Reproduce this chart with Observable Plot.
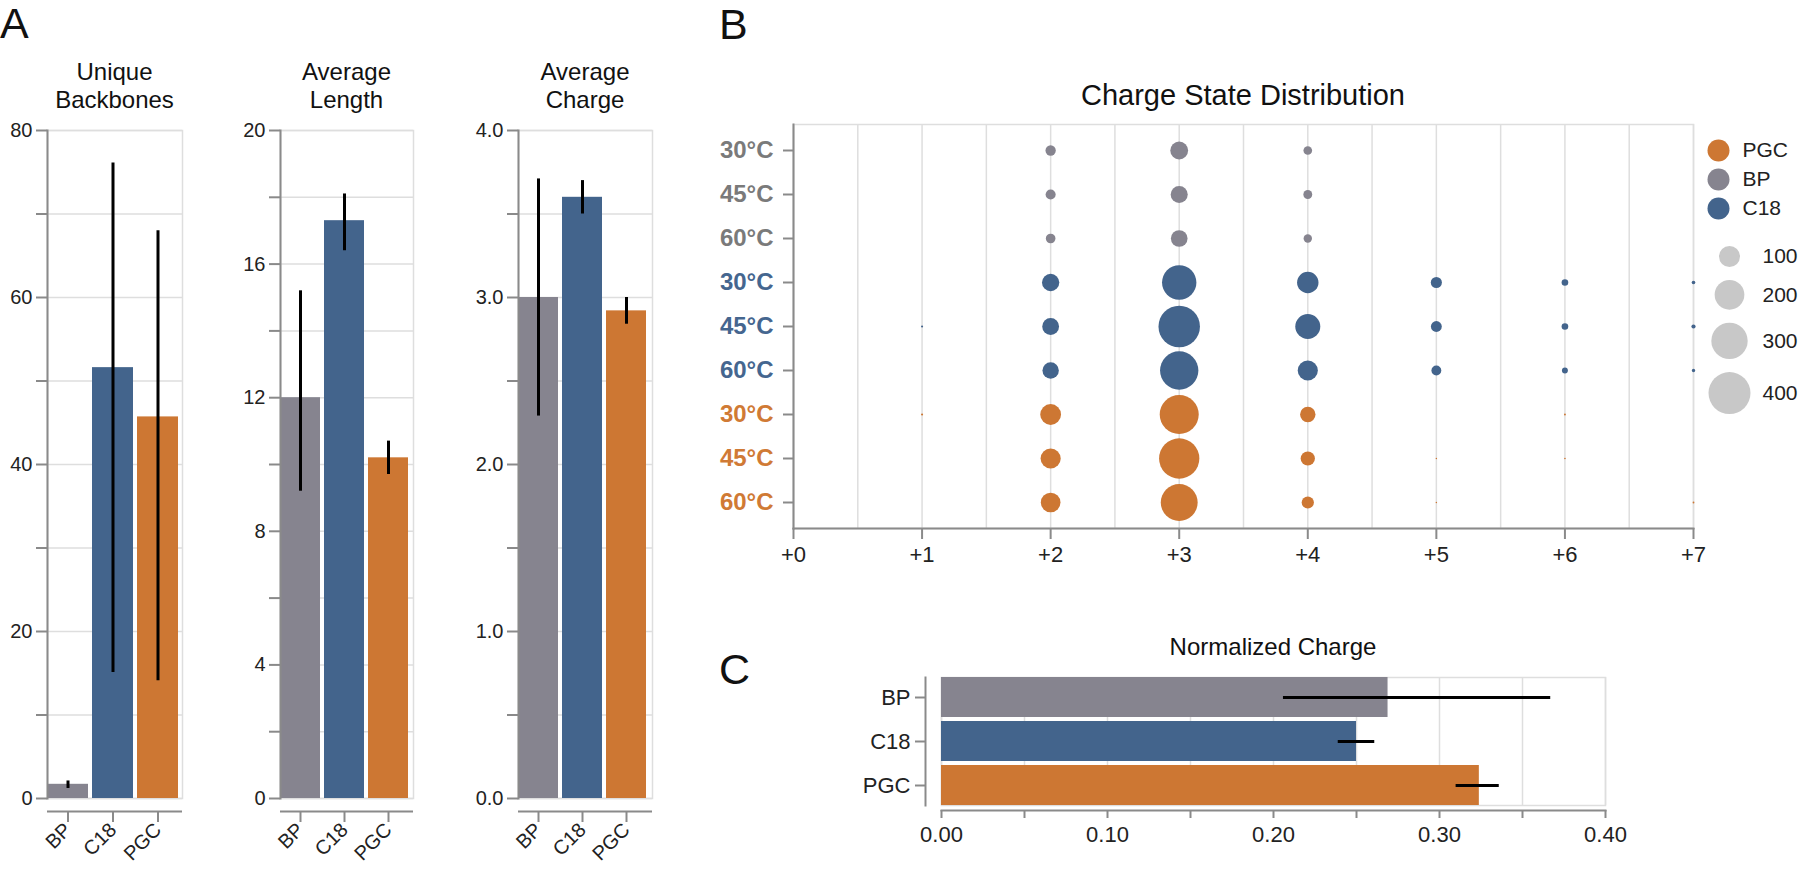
<!DOCTYPE html>
<html><head><meta charset="utf-8">
<script src="https://cdn.jsdelivr.net/npm/d3@7"></script>
<script src="https://cdn.jsdelivr.net/npm/@observablehq/plot@0.6"></script>
<style>
body{margin:0;background:#fff;}
#root{position:relative;width:1800px;height:872px;overflow:hidden;font-family:"Liberation Sans",Arial,sans-serif;color:#111;}
.lbl{position:absolute;white-space:nowrap;line-height:1;}
.ttl{position:absolute;white-space:nowrap;text-align:center;transform:translateX(-50%);}
</style></head><body><div id="root"></div>
<script>
// ---------- data ----------
const columns = ["BP", "C18", "PGC"];
const columnColors = ["#86848f", "#43648c", "#cd7733"];

const uniqueBackbones   = [1.7, 51.6, 45.7];
const uniqueBackbonesLo = [1.2, 15.1, 14.1];
const uniqueBackbonesHi = [2.1, 76.1, 68.0];

const averageLength   = [12.0, 17.3, 10.2];
const averageLengthLo = [9.2, 16.4, 9.7];
const averageLengthHi = [15.2, 18.1, 10.7];

const averageCharge   = [3.0, 3.6, 2.92];
const averageChargeLo = [2.29, 3.5, 2.84];
const averageChargeHi = [3.71, 3.7, 3.0];

const normalizedCharge   = [0.269, 0.25, 0.324];
const normalizedChargeLo = [0.206, 0.239, 0.310];
const normalizedChargeHi = [0.367, 0.261, 0.336];

const chargeStates = [0, 1, 2, 3, 4, 5, 6, 7];
const temperatures = ["30°C", "45°C", "60°C"];
const bpCounts = [
  [0, 0, 24, 72, 17, 0, 0, 0],
  [0, 0, 23, 66, 18, 0, 0, 0],
  [0, 0, 21, 63, 16, 0, 0, 0]
];
const c18Counts = [
  [0, 0, 68, 268, 104, 28, 10, 3],
  [0, 1, 64, 390, 142, 27, 10, 4],
  [0, 0, 61, 333, 92, 22, 8, 2.5]
];
const pgcCounts = [
  [0, 1, 98, 345, 54, 0, 0.8, 0],
  [0, 0, 92, 368, 46, 0.5, 0.6, 0],
  [0, 0, 88, 309, 34, 0.5, 0, 0.7]
];
const rowLabelColors = {BP: "#7a7a7a", C18: "#45668f", PGC: "#d07a35"};
const legendGroups = ["PGC", "BP", "C18"];
const sizeLegendValues = [100, 200, 300, 400];

// ---------- helpers ----------
const FONT = '"Liberation Sans", Arial, sans-serif';
const root = document.getElementById("root");
const AXIS = "#8a8a8a", GRID = "#dedede", TXT = "#222";
const colorScale = {domain: columns, range: columnColors};

function place(node, left, top) {
  node.style.position = "absolute";
  node.style.left = left + "px";
  node.style.top = top + "px";
  root.appendChild(node);
}
function label(text, left, baseline, size) {
  const d = document.createElement("div");
  d.className = "lbl";
  d.textContent = text;
  d.style.fontSize = size + "px";
  d.style.left = left + "px";
  d.style.top = (baseline - 0.8465 * size) + "px";
  root.appendChild(d);
}
function title(lines, center, firstBaseline, size, lh) {
  const d = document.createElement("div");
  d.className = "ttl";
  d.innerHTML = lines.join("<br>");
  d.style.fontSize = size + "px";
  d.style.lineHeight = lh + "px";
  d.style.left = center + "px";
  d.style.top = (firstBaseline - ((lh - 1.117 * size) / 2 + 0.905 * size)) + "px";
  root.appendChild(d);
}
const isMult = (d, s) => Math.abs(d / s - Math.round(d / s)) < 1e-6;

// ---------- panel A ----------
function barPanel({left, width, marginLeft, marginRight, values, lo, hi, max, step, labelStep, fmt}) {
  const data = columns.map((c, i) => ({cat: c, value: values[i], lo: lo[i], hi: hi[i]}));
  const ticks = d3.range(0, max + step / 2, step);
  const chart = Plot.plot({
    width, height: 872, marginLeft, marginRight, marginTop: 130, marginBottom: 74,
    style: {fontFamily: FONT, background: "transparent", overflow: "visible"},
    x: {type: "band", domain: columns, paddingInner: 0.1, paddingOuter: 0.05, align: 0, label: null},
    y: {domain: [0, max], label: null},
    color: colorScale,
    marks: [
      Plot.gridY(ticks, {stroke: GRID, strokeOpacity: 1, strokeWidth: 1.5}),
      Plot.frame({stroke: GRID, strokeWidth: 1.5}),
      Plot.barY(data, {x: "cat", y: "value", fill: "cat"}),
      Plot.ruleX(data, {x: "cat", y1: "lo", y2: "hi", stroke: "#000", strokeWidth: 3}),
      Plot.axisY(ticks, {tickFormat: d => isMult(d, labelStep) ? fmt(d) : "", tickSize: 11, tickPadding: 4,
        stroke: AXIS, strokeWidth: 2, fill: TXT, fontSize: 20, label: null}),
      Plot.frame({anchor: "left", stroke: AXIS, strokeWidth: 2}),
      Plot.axisX({tickRotate: -45, dy: 13, tickSize: 11, tickPadding: 4, stroke: AXIS, strokeWidth: 2,
        fill: TXT, fontSize: 20, label: null}),
      Plot.ruleY([0], {dy: 13, stroke: AXIS, strokeWidth: 2})
    ]
  });
  place(chart, left, 0);
}

barPanel({left: 0, width: 200, marginLeft: 47, marginRight: 18, values: uniqueBackbones,
  lo: uniqueBackbonesLo, hi: uniqueBackbonesHi, max: 80, step: 10, labelStep: 20, fmt: d3.format("d")});
barPanel({left: 230, width: 200, marginLeft: 50, marginRight: 17, values: averageLength,
  lo: averageLengthLo, hi: averageLengthHi, max: 20, step: 2, labelStep: 4, fmt: d3.format("d")});
barPanel({left: 460, width: 210, marginLeft: 58, marginRight: 18, values: averageCharge,
  lo: averageChargeLo, hi: averageChargeHi, max: 4, step: 0.5, labelStep: 1, fmt: d3.format(".1f")});

title(["Unique", "Backbones"], 114.5, 80, 24, 28);
title(["Average", "Length"], 346.5, 80, 24, 28);
title(["Average", "Charge"], 585, 80, 24, 28);

// ---------- panel B ----------
const countsByGroup = {BP: bpCounts, C18: c18Counts, PGC: pgcCounts};
const rows = [];
const bubbles = [];
for (const g of columns) {
  temperatures.forEach((t, ti) => {
    const key = g + " " + t;
    rows.push({group: g, temp: t, key});
    chargeStates.forEach((c, ci) => {
      const v = countsByGroup[g][ti][ci];
      if (v > 0) bubbles.push({group: g, key, charge: c, value: v});
    });
  });
}
const rScale = {type: "sqrt", domain: [0, 400], range: [0, 21]};

const bubbleChart = Plot.plot({
  width: 1160, height: 480, marginLeft: 153, marginRight: 107, marginTop: 24, marginBottom: 52,
  style: {fontFamily: FONT, background: "transparent", overflow: "visible"},
  x: {domain: [0, 7], label: null},
  y: {type: "band", domain: rows.map(r => r.key), padding: 0, label: null},
  r: rScale,
  color: colorScale,
  marks: [
    Plot.gridX(d3.range(0, 7.01, 0.5), {stroke: GRID, strokeOpacity: 1, strokeWidth: 1.5}),
    Plot.frame({stroke: GRID, strokeWidth: 1.5}),
    ...columns.map(g => Plot.text(rows.filter(r => r.group === g), {y: "key", text: "temp",
      frameAnchor: "left", textAnchor: "end", dx: -20, fill: rowLabelColors[g], fontWeight: "bold", fontSize: 24})),
    Plot.axisY({tickFormat: () => "", tickSize: 10, stroke: AXIS, strokeWidth: 2, label: null}),
    Plot.frame({anchor: "left", stroke: AXIS, strokeWidth: 2}),
    Plot.axisX(chargeStates, {tickFormat: d => "+" + d, tickSize: 11, tickPadding: 7, stroke: AXIS, strokeWidth: 2,
      fill: TXT, fontSize: 22, label: null}),
    Plot.frame({anchor: "bottom", stroke: AXIS, strokeWidth: 2}),
    Plot.dot(bubbles, {x: "charge", y: "key", r: "value", fill: "group"})
  ]
});
place(bubbleChart, 640, 100);
title(["Charge State Distribution"], 1243, 106, 29, 29);

// color legend
const colorLegend = Plot.plot({
  width: 100, height: 100, margin: 0,
  style: {fontFamily: FONT, background: "transparent", overflow: "visible"},
  x: {domain: [0, 1], range: [18, 42], axis: null},
  y: {type: "point", domain: legendGroups, range: [20, 78], padding: 0, axis: null},
  color: colorScale,
  marks: [
    Plot.dot(legendGroups, {x: () => 0, y: d => d, fill: d => d, r: 11}),
    Plot.text(legendGroups, {x: () => 1, y: d => d, text: d => d, textAnchor: "start", fill: TXT, fontSize: 21})
  ]
});
place(colorLegend, 1700, 130);

// size legend (items stacked by their radius)
const rOf = d3.scaleSqrt().domain(rScale.domain).range(rScale.range);
const sizeItems = [];
let yPos = 26;
sizeLegendValues.forEach((v, i) => {
  if (i > 0) yPos += rOf(sizeLegendValues[i - 1]) + rOf(v) + 13;
  sizeItems.push({value: v, y: yPos});
});
const sizeLegend = Plot.plot({
  width: 100, height: 200, margin: 0,
  style: {fontFamily: FONT, background: "transparent", overflow: "visible"},
  x: {domain: [0, 1], range: [29, 62], axis: null},
  y: {type: "identity", axis: null},
  r: rScale,
  marks: [
    Plot.dot(sizeItems, {x: () => 0, y: "y", r: "value", fill: "#c8c8c8"}),
    Plot.text(sizeItems, {x: () => 1, y: "y", text: d => String(d.value), textAnchor: "start", fill: TXT, fontSize: 21})
  ]
});
place(sizeLegend, 1700, 230);

// ---------- panel C ----------
const normData = columns.map((c, i) => ({cat: c, value: normalizedCharge[i], lo: normalizedChargeLo[i], hi: normalizedChargeHi[i]}));
const cTicks = d3.range(0, 0.4001, 0.05);
const normChart = Plot.plot({
  width: 940, height: 212, marginLeft: 81, marginRight: 195, marginTop: 17, marginBottom: 67,
  style: {fontFamily: FONT, background: "transparent", overflow: "visible"},
  x: {domain: [0, 0.4], label: null},
  y: {type: "band", domain: columns, paddingInner: 0.1, paddingOuter: 0, label: null},
  color: colorScale,
  marks: [
    Plot.gridX(cTicks, {stroke: GRID, strokeOpacity: 1, strokeWidth: 1.5}),
    Plot.frame({stroke: GRID, strokeWidth: 1.5}),
    Plot.barX(normData, {y: "cat", x: "value", fill: "cat"}),
    Plot.ruleY(normData, {y: "cat", x1: "lo", x2: "hi", stroke: "#000", strokeWidth: 3}),
    Plot.axisY({dx: -16, tickSize: 10, tickPadding: 5, stroke: AXIS, strokeWidth: 2, fill: TXT, fontSize: 22, label: null}),
    Plot.frame({anchor: "left", dx: -16, stroke: AXIS, strokeWidth: 2}),
    Plot.axisX(cTicks, {tickFormat: d => isMult(d, 0.1) ? d3.format(".2f")(d) : "", dy: 5, tickSize: 8, tickPadding: 8,
      stroke: AXIS, strokeWidth: 2, fill: TXT, fontSize: 22, label: null}),
    Plot.frame({anchor: "bottom", dy: 5, stroke: AXIS, strokeWidth: 2})
  ]
});
place(normChart, 860, 660);
title(["Normalized Charge"], 1273, 655, 24, 24);

// ---------- panel letters ----------
label("A", 0, 38, 43);
label("B", 719, 39, 43);
label("C", 719, 684, 43);
</script></body></html>
